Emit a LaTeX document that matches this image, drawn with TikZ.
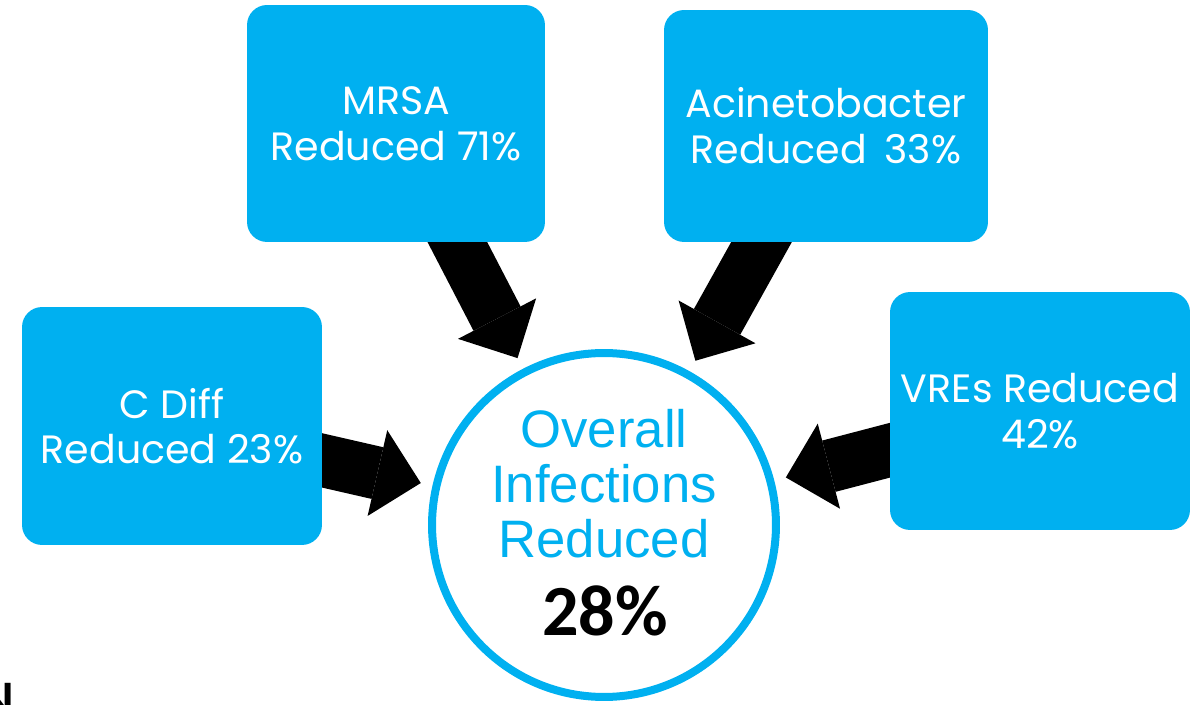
\documentclass[tikz,border=0pt]{standalone}
\usepackage{fontspec}
\usetikzlibrary{arrows.meta, backgrounds}
\setmainfont{Poppins}
\newfontfamily\circfont{Liberation Sans}
\newfontfamily\numfont{Carlito}
\definecolor{boxblue}{RGB}{0, 176, 240}

\begin{document}
\begin{tikzpicture}[x=0.02cm, y=-0.02cm,
    >={Triangle[length=0.89cm, width=1.76cm, line width=0pt]},
    germbox/.style={fill=boxblue, rounded corners=0.4cm, text=white, align=center,
        inner sep=0pt, minimum width=6cm, minimum height=4.76cm,
        font=\fontsize{22.5}{26}\selectfont},
    bigarrow/.style={->, line width=1.06cm, shorten <=-0.6cm, shorten >=0.24cm}]
    \useasboundingbox (0,0) rectangle (1200,705);
    \clip (0,0) rectangle (1200,705);

    % Boxes
    \node[germbox, minimum width=5.96cm, minimum height=4.74cm] (mrsa) at (396,123.5) {MRSA\\Reduced 71\%};
    \node[germbox, minimum width=6.48cm, minimum height=4.64cm] (acine) at (826,126) {Acinetobacter\\Reduced\hspace{0.45em}33\%};
    \node[germbox] (cdiff) at (172,426) {C Diff\\Reduced 23\%};
    \node[germbox] (vre) at (1040,411) {VREs Reduced\\42\%};

    % Centre circle
    \node[circle, draw=boxblue, line width=0.16cm, minimum size=6.88cm, inner sep=0pt] (circ) at (604,525) {};
    \node[anchor=north, align=center, inner sep=0pt, text=boxblue,
        font=\circfont\fontsize{30}{31.3}\selectfont] (overall) at (604,409) {Overall\\Infections\\Reduced};
    \node[anchor=north, inner sep=0pt, font=\numfont\bfseries\fontsize{41}{41}\selectfont] (pct) at (605,585) {28\%};

    % Arrows
    \begin{scope}[on background layer]
        \draw[bigarrow] (mrsa) -- (circ);
        \draw[bigarrow] (acine) -- (circ);
        \draw[bigarrow] (cdiff) -- (circ);
        \draw[bigarrow] (vre) -- (circ);
    \end{scope}

    % cut-off letter at the lower edge
    \node[anchor=north east, inner sep=0pt, font=\numfont\bfseries\fontsize{30}{30}\selectfont] (cut) at (15,683) {N};
\end{tikzpicture}
\end{document}
